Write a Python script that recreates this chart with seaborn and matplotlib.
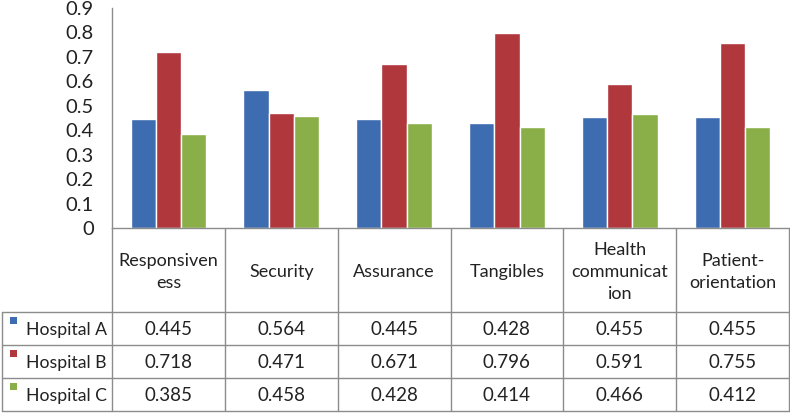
import matplotlib
matplotlib.use("Agg")
import matplotlib.pyplot as plt
import seaborn as sns
import pandas as pd
from matplotlib.lines import Line2D
from matplotlib.patches import Rectangle

categories = ["Responsiveness", "Security", "Assurance", "Tangibles",
              "Health communication", "Patient-orientation"]
header_labels = ["Responsiven\ness", "Security", "Assurance", "Tangibles",
                 "Health\ncommunicat\nion", "Patient-\norientation"]
series = ["Hospital A", "Hospital B", "Hospital C"]
hospital_a = [0.445, 0.564, 0.445, 0.428, 0.455, 0.455]
hospital_b = [0.718, 0.471, 0.671, 0.796, 0.591, 0.755]
hospital_c = [0.385, 0.458, 0.428, 0.414, 0.466, 0.412]
yticks = [0, 0.1, 0.2, 0.3, 0.4, 0.5, 0.6, 0.7, 0.8, 0.9]
ytick_labels = ["0", "0.1", "0.2", "0.3", "0.4", "0.5", "0.6", "0.7", "0.8", "0.9"]
colors = ["#3D6CB0", "#B0383C", "#8BAF48"]

values = [hospital_a, hospital_b, hospital_c]
rows = []
for s, vals in zip(series, values):
    for c, v in zip(categories, vals):
        rows.append({"category": c, "series": s, "value": v})
df = pd.DataFrame(rows)

sns.set_theme(style="white")
plt.rcParams["font.family"] = ["Lato", "DejaVu Sans"]

W, H = 790, 415
fig = plt.figure(figsize=(W / 100, H / 100), dpi=100)
x0, x1 = 112, 789
y_top, y_bot = 8, 228
ax = fig.add_axes([x0 / W, 1 - y_bot / H, (x1 - x0) / W, (y_bot - y_top) / H])

sns.barplot(data=df, x="category", y="value", hue="series", order=categories,
            hue_order=series, palette=colors, saturation=1, width=0.67, ax=ax,
            edgecolor="white", linewidth=1.0, errorbar=None, legend=False)

ax.set_ylim(0, 0.9)
ax.set_xlim(-0.5, len(categories) - 0.5)
ax.set_yticks(yticks)
ax.set_yticklabels(ytick_labels, fontsize=14.5, color="#222222")
ax.tick_params(axis="y", length=0, pad=13)
ax.set_xticks([])
ax.set_xlabel("")
ax.set_ylabel("")
for side in ["top", "right"]:
    ax.spines[side].set_visible(False)
for side in ["left", "bottom"]:
    ax.spines[side].set_color("#8C8C8C")
    ax.spines[side].set_linewidth(1.0)

# ---- data table drawn in figure pixel coords ----
def fx(px):
    return px / W

def fy(py):
    return 1 - py / H

line_col = "#8C8C8C"
col_w = (x1 - x0) / len(categories)
col_edges = [x0 + i * col_w for i in range(len(categories) + 1)]
header_bot = 312
row_edges = [312, 345, 378, 411]
left_edge = 2

def hline(xa, xb, y):
    fig.add_artist(Line2D([fx(xa), fx(xb)], [fy(y), fy(y)], color=line_col, lw=1.0))

def vline(x, ya, yb):
    fig.add_artist(Line2D([fx(x), fx(x)], [fy(ya), fy(yb)], color=line_col, lw=1.0))

for xe in col_edges:
    vline(xe, y_bot, row_edges[-1])
vline(left_edge, row_edges[0], row_edges[-1])
for ye in row_edges:
    hline(left_edge, x1, ye)

for i, lab in enumerate(header_labels):
    cx = (col_edges[i] + col_edges[i + 1]) / 2
    fig.text(fx(cx), fy((y_bot + header_bot) / 2 + 2), lab, ha="center", va="center",
             fontsize=13, color="#222222", linespacing=1.45)

for r, (s, vals) in enumerate(zip(series, values)):
    cy = (row_edges[r] + row_edges[r + 1]) / 2
    fig.add_artist(Rectangle((fx(10), fy(cy - 5)), 7 / W, 7 / H,
                             facecolor=colors[r], edgecolor="none",
                             transform=fig.transFigure))
    fig.text(fx(26), fy(cy + 1), s, ha="left", va="center", fontsize=12.7, color="#222222")
    for i, v in enumerate(vals):
        cx = (col_edges[i] + col_edges[i + 1]) / 2
        fig.text(fx(cx), fy(cy + 1), f"{v:.3f}", ha="center", va="center",
                 fontsize=13.5, color="#222222")

fig.savefig("out.png", dpi=100)
